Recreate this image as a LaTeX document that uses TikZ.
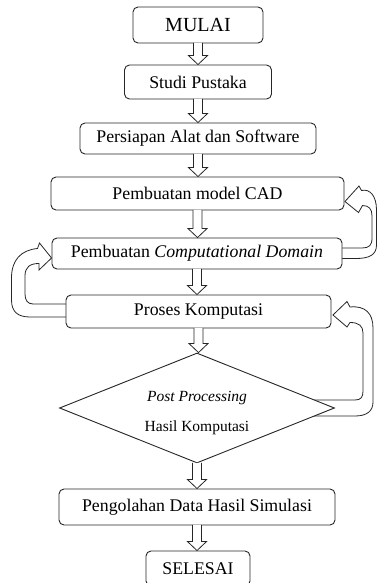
\documentclass[tikz,border=0pt]{standalone}
\usepackage{fontspec}
\setmainfont{Liberation Serif}
\usetikzlibrary{calc,shapes.geometric,backgrounds}
\newcommand\blockarr[2]{%
  \draw[blk] ($(#1.south)+(-4.5,-0.5)$) -- ($(#1.south |- #2.north)+(-4.5,-9)$) -- ++(-5,0)
    -- (#1.south |- #2.north) -- ($(#1.south |- #2.north)+(9.5,-9)$) -- ++(-5,0)
    -- ($(#1.south)+(4.5,-0.5)$);}
\begin{document}
\begin{tikzpicture}[x=1pt,y=-1pt,
  box/.style={draw=black!85, line width=0.9pt, rounded corners=5pt, fill=white,
    inner sep=0pt, font=\fontsize{17.8}{20}\selectfont},
  decbox/.style={draw=black!85, line width=0.9pt, fill=white, diamond, aspect=2.5,
    inner sep=0pt, align=center, font=\fontsize{15.5}{18}\selectfont},
  blk/.style={draw=black!85, line width=0.8pt, fill=white, line join=miter},
  band/.style={draw=black!85, line width=0.8pt, fill=white, line join=miter}]
\useasboundingbox (0,0) rectangle (377,583);

\node[box, minimum width=130pt, minimum height=36pt, font=\fontsize{20}{22}\selectfont] (mulai) at (198,25) {MULAI};
\node[box, minimum width=147pt, minimum height=34pt] (studi) at (198,82) {Studi Pustaka};
\node[box, minimum width=236pt, minimum height=31pt] (alat) at (198,138.5) {Persiapan Alat dan Software};
\node[box, minimum width=293pt, minimum height=33pt] (cad) at (197.5,193.5) {Pembuatan model CAD};
\node[box, minimum width=290pt, minimum height=31pt] (cd) at (197,253.5) {Pembuatan \textit{Computational Domain}};
\node[box, minimum width=265pt, minimum height=33pt] (proses) at (198.5,311.5) {Proses Komputasi};
\node[decbox, minimum width=275pt, minimum height=110pt] (post) at (197,408) {\rule{0pt}{21pt}\textit{Post Processing}\\[12pt]Hasil Komputasi};
\node[box, minimum width=276pt, minimum height=36pt] (olah) at (197,507) {Pengolahan Data Hasil Simulasi};
\node[box, minimum width=104pt, minimum height=35pt] (selesai) at (198,568.5) {SELESAI};

\blockarr{mulai}{studi}
\blockarr{studi}{alat}
\blockarr{alat}{cad}
\blockarr{cad}{cd}
\blockarr{cd}{proses}
\blockarr{proses}{post}
\blockarr{post}{olah}
\blockarr{olah}{selesai}

\begin{scope}[on background layer]
% loop: computational domain -> CAD
\coordinate (t1) at ($(cad.east)+(0.5,8)$);
\draw[band] (t1) -- (359,186) -- (361.5,190.5)
  .. controls (370,188.5) and (376.5,196) .. (376.5,210) -- (376.5,245)
  .. controls (376.5,255) and (369,258.5) .. (356,258.5) -- ($(cd.east)+(-6,5)$)
  -- ($(cd.east)+(-6,-5.5)$) -- (362,248)
  .. controls (369,248) and (372,245.5) .. (372,238) -- (372,216)
  .. controls (372,209) and (369,205.5) .. (362.5,205.5) -- (358.5,212.5) -- cycle;
% loop: proses -> computational domain
\coordinate (t2) at ($(cd.west)+(0,4.5)$);
\draw[band] (t2) -- (39.5,243) -- (37.5,248.5)
  .. controls (21,250) and (11.5,260) .. (11.5,278) -- (11.5,300)
  .. controls (11.5,312) and (18,317) .. (30,317) -- ($(proses.west)+(6,5.5)$)
  -- ($(proses.west)+(6,-7.5)$) -- (33,304)
  .. controls (27.5,304) and (25,300) .. (25,294) -- (25,276)
  .. controls (25,267) and (30,263.5) .. (39,263.5) -- (39,270) -- cycle;
% loop: post processing -> proses
\coordinate (t3) at ($(proses.east)+(1.5,3.5)$);
\draw[band] (t3) -- (347,301.5) -- (350,307)
  .. controls (365,305.5) and (373,313) .. (373,328) -- (373,402)
  .. controls (373,411) and (367,416) .. (355,416) -- (300,416)
  -- (300,400) -- (355,400)
  .. controls (361,400) and (363,397) .. (363,391) -- (363,333)
  .. controls (363,326) and (359,322.5) .. (350,322.5) -- (347,327) -- cycle;
\end{scope}
\end{tikzpicture}
\end{document}
